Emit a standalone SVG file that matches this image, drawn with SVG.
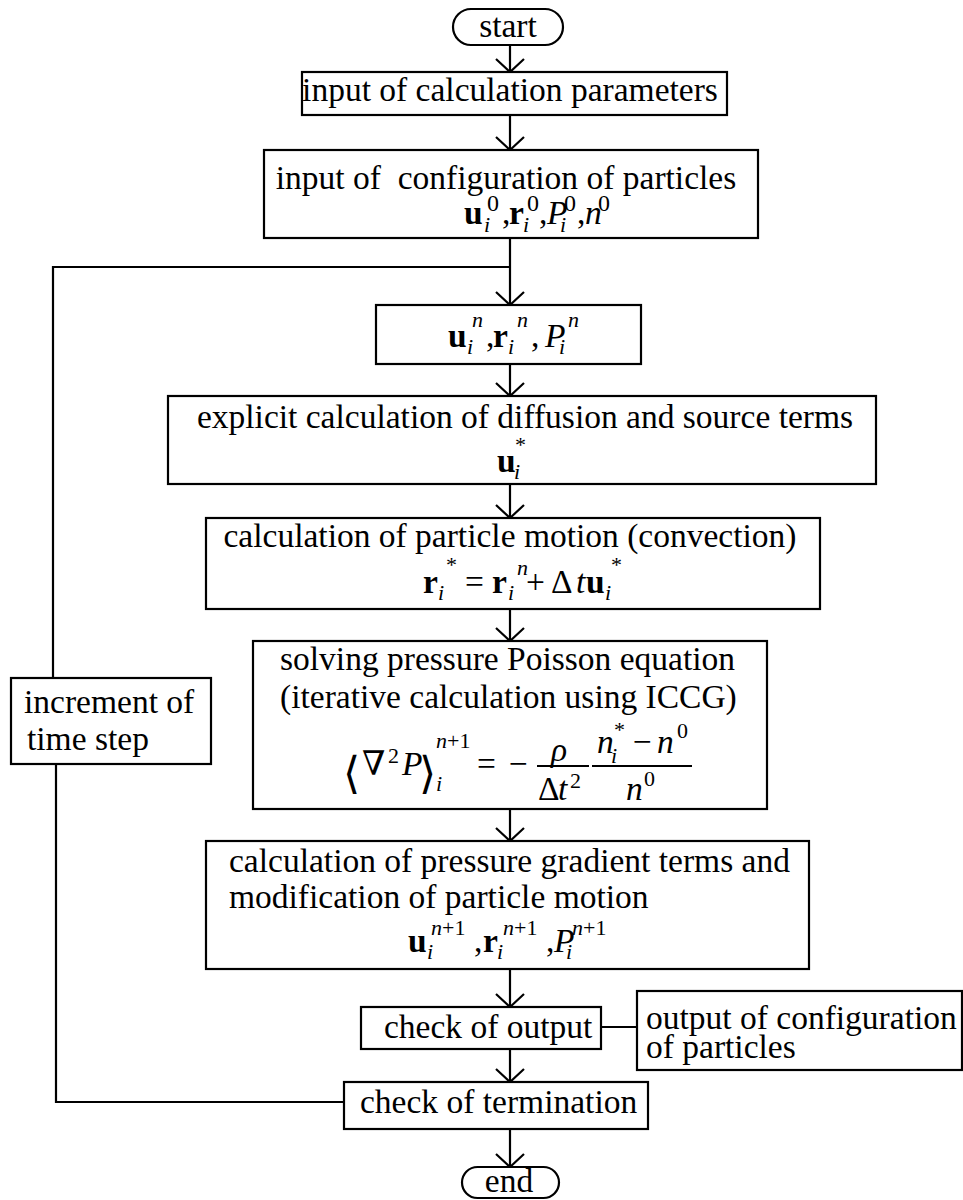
<svg xmlns="http://www.w3.org/2000/svg" width="963" height="1200" viewBox="0 0 963 1200">
<defs>
<marker id="arr" markerUnits="userSpaceOnUse" markerWidth="32" markerHeight="32" viewBox="-16 -16 32 32" refX="0" refY="0" orient="auto" overflow="visible">
<path d="M-13,-14 L0,0 L-13,14" fill="none" stroke="#000" stroke-width="2.2"/>
</marker>
</defs>
<style>
rect{fill:#fff;stroke:#000;stroke-width:2.2}
.c line,.c polyline{stroke:#000;stroke-width:2.2;fill:none}
text{font-family:"Liberation Serif","DejaVu Serif",serif;font-size:33.5px;fill:#000}
.m{text-anchor:middle}
.b{font-weight:bold}
.it{font-style:italic}
.s{font-size:22px}
.s0{font-size:24px}
.br{font-family:"DejaVu Serif","Liberation Serif",serif;font-size:44px}
.fb{stroke:#000;stroke-width:1.8}
</style>

<g class="c" id="connectors">
<line x1="510" y1="45" x2="510" y2="72" marker-end="url(#arr)"/>
<line x1="510" y1="115" x2="510" y2="150" marker-end="url(#arr)"/>
<line x1="510" y1="238" x2="510" y2="305" marker-end="url(#arr)"/>
<line x1="510" y1="364" x2="510" y2="396" marker-end="url(#arr)"/>
<line x1="510" y1="484" x2="510" y2="518" marker-end="url(#arr)"/>
<line x1="510" y1="609" x2="510" y2="641" marker-end="url(#arr)"/>
<line x1="510" y1="809" x2="510" y2="841" marker-end="url(#arr)"/>
<line x1="510" y1="969" x2="510" y2="1007" marker-end="url(#arr)"/>
<line x1="510" y1="1049" x2="510" y2="1082" marker-end="url(#arr)"/>
<line x1="510" y1="1129" x2="510" y2="1167" marker-end="url(#arr)"/>
<polyline points="344,1102 56,1102 56,764"/>
<polyline points="53,678 53,267 510,267"/>
<line x1="601" y1="1027" x2="637" y2="1027"/>
</g>

<g id="start">
<rect x="453" y="9" width="110" height="36" rx="18"/>
<text class="m" x="508" y="37">start</text>
</g>

<g id="params">
<rect x="302" y="72" width="425" height="43"/>
<text class="m" x="510" y="101">input of calculation parameters</text>
</g>

<g id="config">
<rect x="264" y="150" width="494" height="88"/>
<text class="m" x="506" y="189" xml:space="preserve">input of  configuration of particles</text>
<text class="b" x="464" y="224">u</text>
<text class="it s" x="484" y="232">i</text>
<text class="s0" x="487" y="211">0</text>
<text x="502" y="224">,</text>
<text class="b" x="509" y="224">r</text>
<text class="it s" x="523" y="232">i</text>
<text class="s0" x="527" y="211">0</text>
<text x="539" y="224">,</text>
<text class="it" x="547" y="224">P</text>
<text class="it s" x="560" y="232">i</text>
<text class="s0" x="564" y="211">0</text>
<text x="577" y="224">,</text>
<text class="it" x="585" y="224">n</text>
<text class="s0" x="598" y="211">0</text>
</g>

<g id="state-n">
<rect x="376" y="305" width="265" height="59"/>
<text class="b" x="448" y="347">u</text>
<text class="it s" x="467" y="354">i</text>
<text class="it s" x="472" y="327">n</text>
<text x="486" y="347">,</text>
<text class="b" x="493" y="347">r</text>
<text class="it s" x="508" y="354">i</text>
<text class="it s" x="517" y="327">n</text>
<text x="531" y="347">,</text>
<text class="it" x="545" y="347">P</text>
<text class="it s" x="559" y="354">i</text>
<text class="it s" x="568" y="327">n</text>
</g>

<g id="explicit">
<rect x="168" y="396" width="708" height="88"/>
<text class="m" x="525" y="428">explicit calculation of diffusion and source terms</text>
<text class="b" x="497" y="472">u</text>
<text class="it s" x="514" y="479">i</text>
<text class="s" x="515" y="452">*</text>
</g>

<g id="convection">
<rect x="206" y="518" width="614" height="91"/>
<text class="m" x="510" y="547">calculation of particle motion (convection)</text>
<text class="b" x="423" y="593">r</text>
<text class="it s" x="438" y="600">i</text>
<text class="s" x="446" y="572">*</text>
<text x="465" y="593">=</text>
<text class="b" x="492" y="593">r</text>
<text class="it s" x="508" y="600">i</text>
<text class="it s" x="517" y="575">n</text>
<text x="526" y="593">+</text>
<text x="551" y="593">Δ</text>
<text class="it" x="576" y="593">t</text>
<text class="b" x="586" y="593">u</text>
<text class="it s" x="605" y="600">i</text>
<text class="s" x="611" y="572">*</text>
</g>

<g id="poisson">
<rect x="253" y="641" width="514" height="168"/>
<text x="280" y="670">solving pressure Poisson equation</text>
<text x="280" y="708">(iterative calculation using ICCG)</text>
<text class="br" x="343" y="788">⟨</text>
<text x="362" y="775">∇</text>
<text class="s" x="388" y="763">2</text>
<text class="it" x="402" y="775">P</text>
<text class="br" x="419" y="788">⟩</text>
<text class="it s" x="436" y="791">i</text>
<text class="s" x="436" y="748"><tspan class="it">n</tspan>+1</text>
<text x="477" y="775">=</text>
<text x="509" y="775">−</text>
<text class="it" x="551" y="761">ρ</text>
<line class="fb" x1="537" y1="766" x2="589" y2="766"/>
<text x="538" y="800">Δ</text>
<text class="it" x="558" y="800">t</text>
<text class="s" x="570" y="788">2</text>
<line class="fb" x1="592" y1="766" x2="692" y2="766"/>
<text class="it" x="597" y="753">n</text>
<text class="it s" x="611" y="763">i</text>
<text class="s" x="614" y="737">*</text>
<text x="633" y="753">−</text>
<text class="it" x="657" y="753">n</text>
<text class="s" x="677" y="738">0</text>
<text class="it" x="626" y="800">n</text>
<text class="s" x="644" y="786">0</text>
</g>

<g id="gradient">
<rect x="206" y="841" width="603" height="128"/>
<text x="229" y="872">calculation of pressure gradient terms and</text>
<text x="229" y="908">modification of particle motion</text>
<text class="b" x="408" y="952">u</text>
<text class="it s" x="427" y="959">i</text>
<text class="s" x="431" y="935"><tspan class="it">n</tspan>+1</text>
<text x="474" y="952">,</text>
<text class="b" x="483" y="952">r</text>
<text class="it s" x="497" y="959">i</text>
<text class="s" x="503" y="935"><tspan class="it">n</tspan>+1</text>
<text x="546" y="952">,</text>
<text class="it" x="554" y="952">P</text>
<text class="it s" x="566" y="959">i</text>
<text class="s" x="572" y="935"><tspan class="it">n</tspan>+1</text>
</g>

<g id="increment">
<rect x="11" y="678" width="200" height="86"/>
<text x="24" y="713">increment of</text>
<text x="27" y="750">time step</text>
</g>

<g id="check-output">
<rect x="361" y="1007" width="240" height="42"/>
<text x="384" y="1038">check of output</text>
</g>

<g id="output-config">
<rect x="637" y="991" width="325" height="79"/>
<text x="646" y="1029">output of configuration</text>
<text x="646" y="1058">of particles</text>
</g>

<g id="check-termination">
<rect x="344" y="1082" width="304" height="47"/>
<text x="360" y="1113">check of termination</text>
</g>

<g id="end">
<rect x="462" y="1167" width="97" height="31" rx="15.5"/>
<text class="m" x="509" y="1192">end</text>
</g>
</svg>
